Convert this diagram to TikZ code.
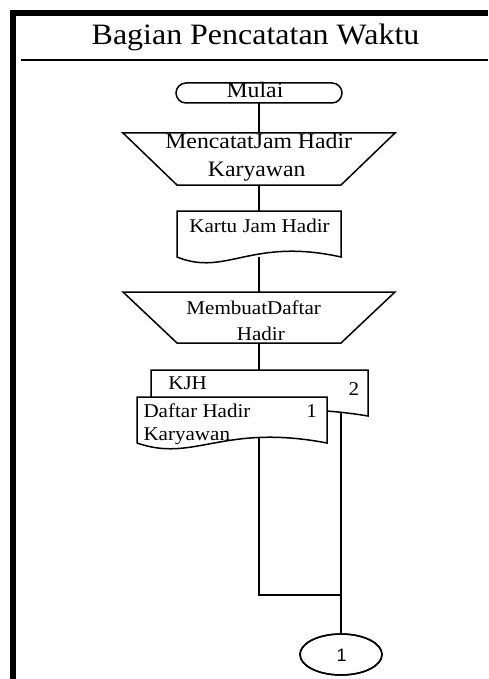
\documentclass[tikz,border=0pt]{standalone}
\usepackage{fontspec}
\setmainfont{Liberation Serif}[FakeStretch=1.08]
\newfontfamily\connfont{Liberation Sans}
\usetikzlibrary{calc,shapes.geometric}

\tikzset{
  x=1pt, y=-1pt,
  frame/.style={inner sep=0pt, outer sep=0pt, draw=none},
  outline/.style={draw=black, line width=1.5pt, fill=white, line join=miter},
  flow/.style={draw=black, line width=1.5pt},
  lbl/.style={inner sep=0pt, outer sep=0pt, anchor=base},
  big/.style={font=\fontsize{29.6}{34}\selectfont},
  mid/.style={font=\fontsize{22}{26}\selectfont},
  small/.style={font=\fontsize{19.5}{23}\selectfont},
}

% manual operation: wide top, narrow bottom
\newcommand{\manualop}[2]{%
  \draw[outline] (#1.north west) -- (#1.north east)
    -- ($(#1.south east)+(-#2,0)$) -- ($(#1.south west)+(#2,0)$) -- cycle;}
% document with a wavy lower edge
\newcommand{\docshape}[1]{%
  \draw[outline] (#1.north west) -- (#1.north east) -- (#1.south east)
    .. controls ($(#1.south west)!0.45!(#1.south east)+(0,-20)$)
            and ($(#1.south west)!0.30!(#1.south east)+(0,20)$) .. (#1.south west)
    -- cycle;}

\begin{document}
\begin{tikzpicture}
\useasboundingbox (0,0) rectangle (488,679);

% swimlane frame and header
\fill[black] (10,10) rectangle (16,679);
\fill[black] (10,10) rectangle (488,16);
\draw[line width=1.3pt] (21,60) -- (488,60);
\node[lbl, big] (title) at (255.5,45) {Bagian Pencatatan Waktu};

% shape frames
\node[frame, minimum width=166pt, minimum height=20pt] (start) at (259,93) {};
\node[frame, minimum width=272pt, minimum height=52pt] (op1) at (259,159) {};
\node[frame, minimum width=164pt, minimum height=46pt] (kartu) at (259,234) {};
\node[frame, minimum width=272pt, minimum height=51pt] (op2) at (259,317.5) {};
\node[frame, minimum width=217pt, minimum height=46pt] (back) at (259.5,393) {};
\node[frame, minimum width=190pt, minimum height=46pt] (front) at (232,420) {};
\node[ellipse, flow, fill=white, inner sep=0pt, minimum width=82pt, minimum height=41pt] (conn) at (341,654.5) {};
\coordinate (j1) at ($(op2.south)+(0,252)$);
\coordinate (j2) at (conn.north |- j1);

% connectors (drawn first, shapes cover their ends)
\draw[flow] (start.south) -- (op1.north);
\draw[flow] (op1.south) -- (kartu.north);
\draw[flow] (kartu.south) -- (op2.north);
\draw[flow] (op2.south) -- (j1) -- (j2);
\draw[flow] (conn.north |- back.center) -- (conn.north);

% terminal
\draw[outline] ($(start.north west)+(10,0)$) -- ($(start.north east)+(-10,0)$)
  .. controls ($(start.north east)+(-4,0)$) and ($(start.east)+(0,-5)$) .. (start.east)
  .. controls ($(start.east)+(0,5)$) and ($(start.south east)+(-4,0)$) .. ($(start.south east)+(-10,0)$)
  -- ($(start.south west)+(10,0)$)
  .. controls ($(start.south west)+(4,0)$) and ($(start.west)+(0,5)$) .. (start.west)
  .. controls ($(start.west)+(0,-5)$) and ($(start.north west)+(4,0)$) .. ($(start.north west)+(10,0)$);

\manualop{op1}{54}
\docshape{kartu}
\manualop{op2}{54}
\docshape{back}
\docshape{front}
\draw[flow] (conn.center) ellipse [x radius=41, y radius=20.5];

% texts
\node[lbl, mid] (t-start) at (255,97.3) {Mulai};
\node[lbl, mid] (t-op1a) at (258.7,148.3) {MencatatJam Hadir};
\node[lbl, mid] (t-op1b) at (256.7,176.7) {Karyawan};
\node[lbl, small] (t-kartu) at (259.5,232.7) {Kartu Jam Hadir};
\node[lbl, small] (t-op2a) at (253.7,314.3) {MembuatDaftar};
\node[lbl, small] (t-op2b) at (260.8,340) {Hadir};
\node[lbl, small, anchor=base west] (t-kjh) at (168.3,389) {KJH};
\node[lbl, small] (t-two) at (354,395) {2};
\node[lbl, small, anchor=base west] (t-front-a) at (143.5,417.3) {Daftar Hadir};
\node[lbl, small, anchor=base west] (t-front-b) at (143.5,440) {Karyawan};
\node[lbl, small] (t-one) at (311.7,417) {1};
\node[lbl, font=\connfont\fontsize{18}{20}\selectfont] (t-conn) at (341.5,661) {1};
\end{tikzpicture}
\end{document}
